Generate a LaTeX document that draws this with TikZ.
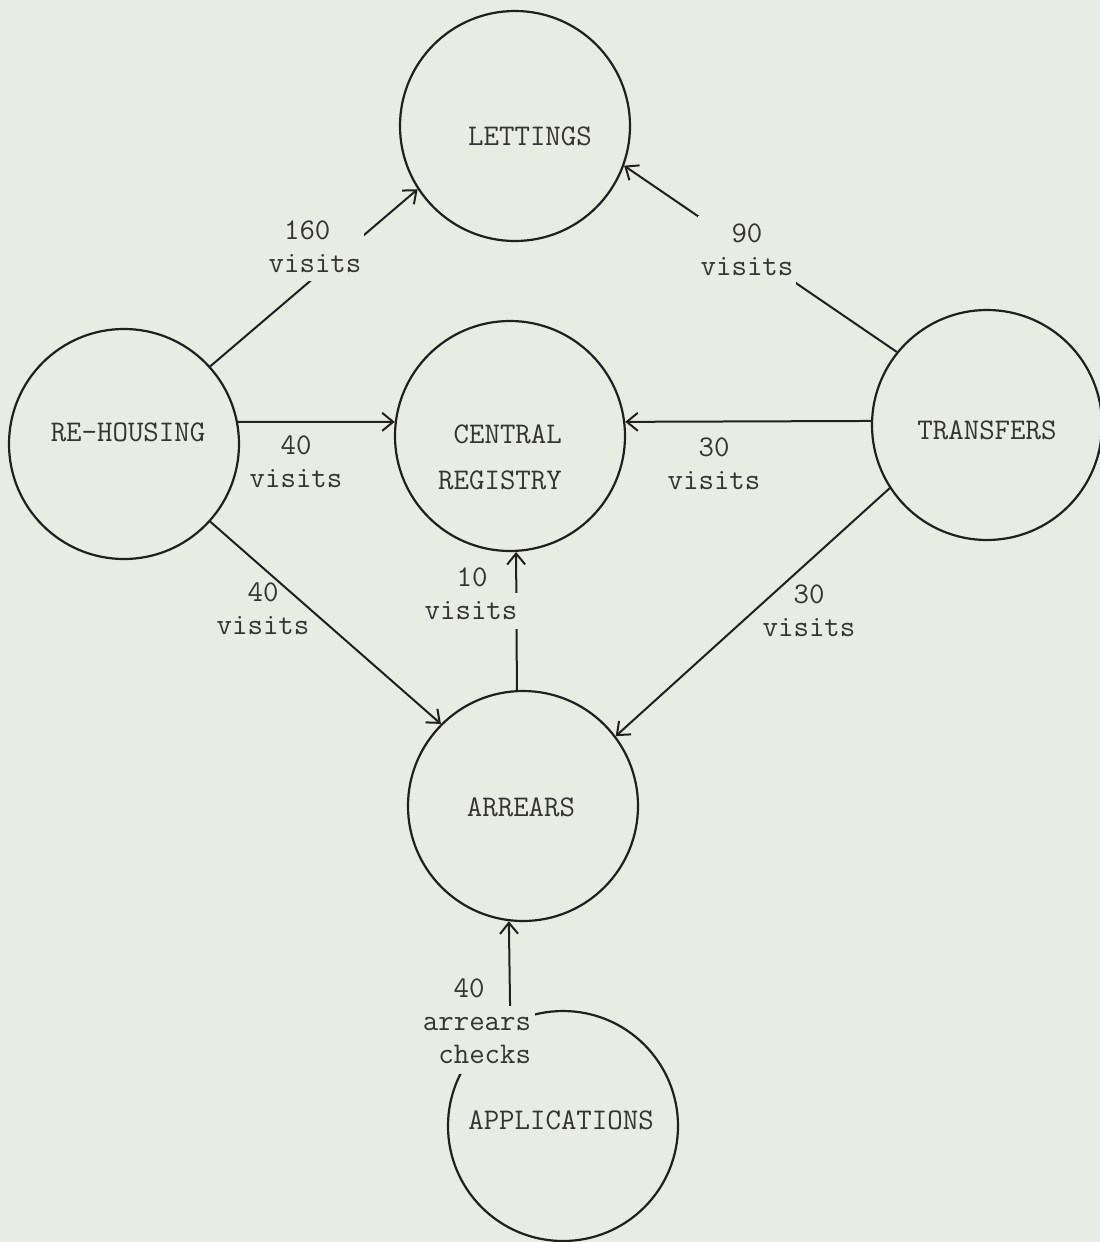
\documentclass[tikz,border=0pt]{standalone}
\usepackage{fontspec}
\usetikzlibrary{arrows.meta}
\definecolor{paper}{RGB}{232,236,226}
\definecolor{ink}{RGB}{32,32,30}
\definecolor{typedink}{RGB}{52,52,50}
\tikzset{
  office/.style={circle, draw=ink, line width=2.2pt, minimum size=230pt, inner sep=0pt},
  typed/.style={font=\fontsize{30}{33}\selectfont\ttfamily, text=typedink, inner sep=0pt},
  flowlabel/.style={typed, align=center},
  gapfill/.style={fill=paper, inner xsep=3pt, inner ysep=8pt},
  flow/.style={draw=ink, line width=2pt, -{Straight Barb[length=11pt,width=18pt]}}
}
\begin{document}
\begin{tikzpicture}[x=1pt, y=-1pt]
\useasboundingbox (0,0) rectangle (1100,1242);
\fill[paper] (0,0) rectangle (1100,1242);

% sections of the department
\node[office] (let)  at (515,126)  {};
\node[office] (reh)  at (124,444)  {};
\node[office] (cen)  at (510,436)  {};
\node[office] (tra)  at (987,425)  {};
\node[office] (arr)  at (523,806)  {};
\node[office] (apps) at (563,1126) {};

% section names
\node[typed] (letT)  at (530,136)  {LETTINGS};
\node[typed] (rehT)  at (128,432)  {RE-HOUSING};
\node[typed, align=right, font=\fontsize{30}{46}\selectfont\ttfamily] (cenT) at (500,457) {CENTRAL\\REGISTRY};
\node[typed] (traT)  at (987,430)  {TRANSFERS};
\node[typed] (arrT)  at (521,807)  {ARREARS};
\node[typed] (appsT) at (561,1120) {APPLICATIONS};

% visits between sections
\draw[flow] (reh.42)    -- (let.213);
\draw[flow] (tra.141)   -- (let.340);
\draw[flow] (reh.11)    -- (cen.173);
\draw[flow] (tra.178.5) -- (cen.7);
\draw[flow] (reh.318)   -- (arr.135);
\draw[flow] (tra.213)   -- (arr.37);
\draw[flow] (arr.93)    -- (cen.273.5);
\draw[flow] (apps.117.4) -- (arr.263.5);

% counts on the connectors
\node[flowlabel, gapfill] (l160) at (315,247) {160\hphantom{0}\\visits};
\node[flowlabel, gapfill] (l90)  at (747,250) {90\\visits};
\node[flowlabel] (l40a) at (296,462) {40\\visits};
\node[flowlabel] (l30a) at (714,464) {30\\visits};
\node[flowlabel] (l40b) at (263,609) {40\\visits};
\node[flowlabel] (l30b) at (809,611) {30\\visits};
\node[typed] (l10n) at (472,577) {10};
\node[typed, gapfill, inner ysep=9pt] (l10v) at (471,611) {visits};
\node[typed] (l40c) at (469,988) {40};
\node[typed, align=right, gapfill, inner xsep=4pt, inner ysep=11pt] (lchk) at (477,1040) {arrears\\checks};
\end{tikzpicture}
\end{document}
